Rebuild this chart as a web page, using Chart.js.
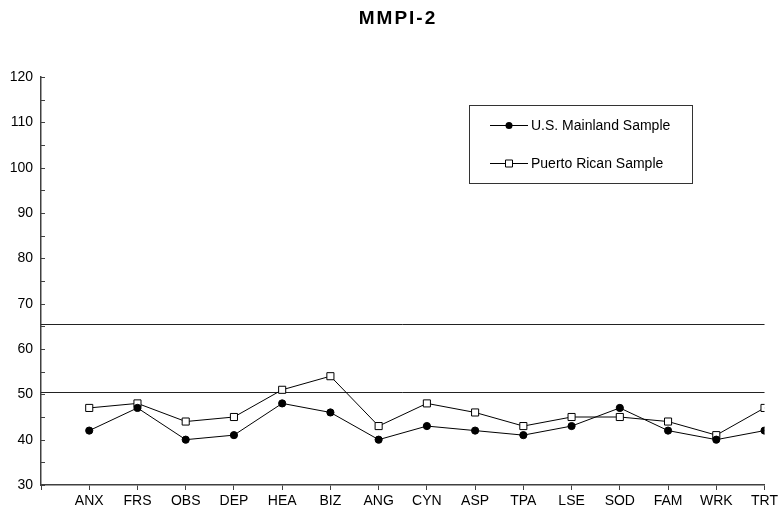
<!DOCTYPE html>
<html>
<head>
<meta charset="utf-8">
<script src="https://cdn.jsdelivr.net/npm/chart.js@4/dist/chart.umd.min.js"></script>
<style>
  html, body { margin: 0; padding: 0; background: #fff; }
  #wrap { width: 781px; height: 514px; }
</style>
</head>
<body>
<div id="wrap"><canvas id="c" width="781" height="514"></canvas></div>
<script>
const chartTitle = 'MMPI-2';
const categories = ['ANX','FRS','OBS','DEP','HEA','BIZ','ANG','CYN','ASP','TPA','LSE','SOD','FAM','WRK','TRT'];
const usMainland = [42, 47, 40, 41, 48, 46, 40, 43, 42, 41, 43, 47, 42, 40, 42];
const puertoRican = [47, 48, 44, 45, 51, 54, 43, 48, 46, 43, 45, 45, 44, 41, 47];
const seriesNames = ['U.S. Mainland Sample', 'Puerto Rican Sample'];
const referenceLines = [65.5, 50.5];
const yMin = 30, yMax = 120, yStep = 5, yLabelStep = 10;

const FONT = '"Liberation Sans", Arial, sans-serif';
const INK = '#000';
const AXIS = '#404040';

function toPoints(arr) { return arr.map((v, i) => ({ x: i + 1, y: v })); }

const decorations = {
  id: 'decorations',
  beforeDatasetsDraw(chart) {
    const { ctx, chartArea, scales } = chart;
    const y = scales.y;
    ctx.save();
    ctx.strokeStyle = '#222';
    ctx.lineWidth = 1;
    referenceLines.forEach(v => {
      const py = Math.round(y.getPixelForValue(v)) + 0.5;
      ctx.beginPath();
      ctx.moveTo(chartArea.left, py);
      ctx.lineTo(chartArea.right, py);
      ctx.stroke();
    });
    // inner y ticks
    ctx.strokeStyle = AXIS;
    y.ticks.forEach(t => {
      const py = Math.round(y.getPixelForValue(t.value)) + 0.5;
      ctx.beginPath();
      ctx.moveTo(chartArea.left, py);
      ctx.lineTo(chartArea.left + 4, py);
      ctx.stroke();
    });
    ctx.restore();
  },
  afterDraw(chart) {
    const { ctx } = chart;
    ctx.save();
    // title
    ctx.fillStyle = INK;
    ctx.font = 'bold 19px ' + FONT;
    ctx.textAlign = 'center';
    ctx.textBaseline = 'middle';
    try { ctx.letterSpacing = '2px'; } catch (e) {}
    ctx.fillText(chartTitle, 398, 19);
    try { ctx.letterSpacing = '0px'; } catch (e) {}
    // legend
    const bx = 469.5, by = 105.5, bw = 223, bh = 78;
    ctx.strokeStyle = '#333';
    ctx.lineWidth = 1;
    ctx.strokeRect(bx, by, bw, bh);
    const rows = [125, 163];
    chart.data.datasets.forEach((ds, i) => {
      const ry = rows[i] + 0.5;
      ctx.strokeStyle = INK;
      ctx.beginPath();
      ctx.moveTo(490, ry);
      ctx.lineTo(528, ry);
      ctx.stroke();
      ctx.beginPath();
      if (ds.pointStyle === 'rect') {
        ctx.fillStyle = '#fff';
        ctx.rect(505.5, ry - 3.5, 7, 7);
        ctx.fill();
        ctx.stroke();
      } else {
        ctx.fillStyle = INK;
        ctx.arc(509, ry, 3.5, 0, Math.PI * 2);
        ctx.fill();
      }
      ctx.fillStyle = INK;
      ctx.font = '14px ' + FONT;
      ctx.textAlign = 'left';
      ctx.textBaseline = 'middle';
      ctx.fillText(ds.label, 531, rows[i] + 1);
    });
    ctx.restore();
  }
};

new Chart(document.getElementById('c'), {
  type: 'line',
  data: {
    datasets: [
      {
        label: seriesNames[0],
        data: toPoints(usMainland),
        borderColor: INK,
        borderWidth: 1,
        pointStyle: 'circle',
        pointRadius: 3.6,
        pointBackgroundColor: INK,
        pointBorderColor: INK,
        pointBorderWidth: 1,
        tension: 0
      },
      {
        label: seriesNames[1],
        data: toPoints(puertoRican),
        borderColor: INK,
        borderWidth: 1,
        pointStyle: 'rect',
        pointRadius: 5,
        pointBackgroundColor: '#fff',
        pointBorderColor: INK,
        pointBorderWidth: 1,
        tension: 0
      }
    ]
  },
  options: {
    responsive: false,
    animation: false,
    devicePixelRatio: 1,
    layout: { padding: { top: 77, right: 16, bottom: 0, left: 0 } },
    plugins: {
      legend: { display: false },
      title: { display: false },
      tooltip: { enabled: false }
    },
    scales: {
      x: {
        type: 'linear',
        min: 0,
        max: categories.length,
        afterBuildTicks(scale) {
          scale.ticks = [];
          for (let i = 0; i <= categories.length; i++) scale.ticks.push({ value: i });
        },
        afterFit(scale) { scale.height = 29; },
        ticks: {
          autoSkip: false,
          maxRotation: 0,
          padding: 3,
          color: INK,
          font: { family: FONT, size: 14 },
          callback: (v) => (v >= 1 && v <= categories.length) ? categories[v - 1] : ''
        },
        grid: { drawOnChartArea: false, drawTicks: true, tickLength: 5, color: AXIS, lineWidth: 1 },
        border: { display: true, color: AXIS, width: 1.5 }
      },
      y: {
        type: 'linear',
        min: yMin,
        max: yMax,
        afterFit(scale) { scale.width = 41; },
        ticks: {
          stepSize: yStep,
          padding: 8,
          color: INK,
          font: { family: FONT, size: 14 },
          callback: (v) => (v % yLabelStep === 0) ? String(v) : ''
        },
        grid: { drawOnChartArea: false, drawTicks: false },
        border: { display: true, color: AXIS, width: 1.5 }
      }
    }
  },
  plugins: [decorations]
});
</script>
</body>
</html>
